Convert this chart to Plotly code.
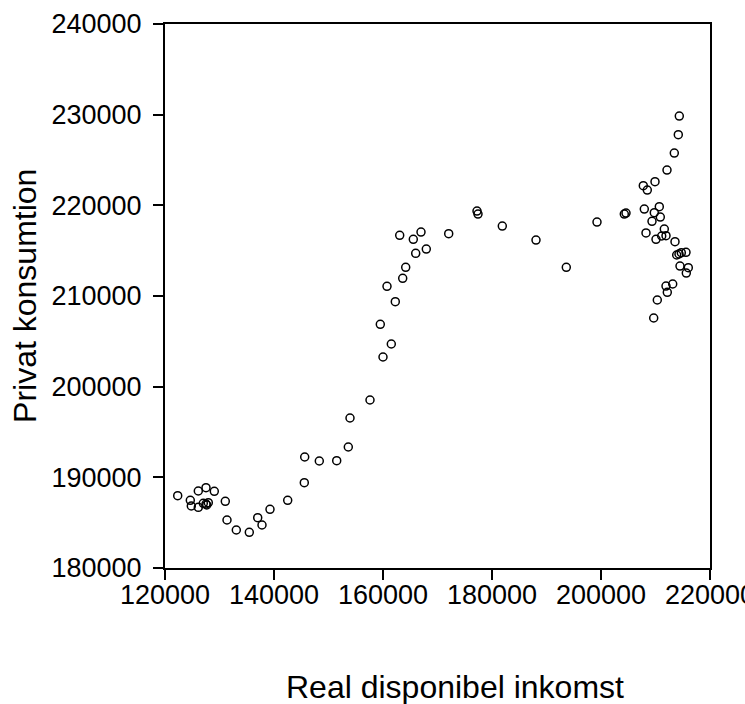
import plotly.graph_objects as go

income = [122330, 124642, 126110, 127523, 129046, 124826, 126110, 127028, 127523, 127945,
          127651, 131064, 131376, 133083, 135468, 137009, 137798, 139266, 142514,
          145560, 145633, 148312, 151505, 153633, 153945, 157615,
          160000, 161523, 159505, 162257, 160734, 163615, 164165, 166000, 167945,
          163064, 165560, 166972, 172055,
          177248, 177431, 181890, 188073, 193633, 199266, 204587,
          204275, 207945, 210697, 209780, 210881, 209358, 211615, 208257, 210092,
          211138, 211927, 213578, 213890, 214312, 214734, 215596, 214495, 216018,
          215651, 211927, 213156, 212165, 210330, 209670,
          214367, 214183, 213450, 212110, 209908, 207761, 208495]
consumption = [187974, 187467, 188492, 188856, 188459, 186838, 186694, 187136, 187059, 187202,
               186948, 187356, 185294, 184191, 183937, 185548, 184743, 186474, 187467,
               189408, 192242, 191801, 191834, 193345, 196543, 198529,
               203271, 204705, 206877, 209370, 211068, 211950, 213164, 214708, 215182,
               216694, 216252, 217057, 216870,
               219373, 219042, 217718, 216174, 213164, 218160, 219152,
               219042, 219593, 219848, 219186, 218711, 218237, 217388, 216956, 216252,
               216616, 216649, 215987, 214521, 214631, 214774, 214818, 213307, 213120,
               212535, 211101, 211322, 210407, 209558, 207573,
               229851, 227789, 225770, 223895, 222605, 222164, 221689]

x_ticks = [120000, 140000, 160000, 180000, 200000, 220000]
y_ticks = [180000, 190000, 200000, 210000, 220000, 230000, 240000]

fig = go.Figure(go.Scatter(
    x=income, y=consumption, mode="markers",
    marker=dict(symbol="circle-open", size=8, color="black", line=dict(width=1.5, color="black")),
    showlegend=False,
))

font = dict(family="Liberation Sans, Arial, sans-serif", size=27, color="black")
title_font = dict(family="Liberation Sans, Arial, sans-serif", size=32, color="black")
axis_common = dict(
    showline=True, linecolor="black", linewidth=2, mirror=True,
    ticks="outside", ticklen=10, tickwidth=1.5, tickcolor="black",
    showgrid=False, zeroline=False, tickfont=font, ticklabeloverflow="allow",
    automargin=False,
)
fig.update_layout(
    width=745, height=704,
    margin=dict(l=165, r=35, t=24, b=136),
    plot_bgcolor="white", paper_bgcolor="white",
    font=font,
    xaxis=dict(range=[120000, 220000], tickvals=x_ticks, ticktext=[str(v) for v in x_ticks],
               ticklabelstandoff=-8, **axis_common),
    yaxis=dict(range=[180000, 240000], tickvals=y_ticks, ticktext=[str(v) for v in y_ticks],
               ticklabelstandoff=6, **axis_common),
    annotations=[
        dict(text="Real disponibel inkomst", xref="paper", yref="paper", x=0.532, y=-0.219,
             xanchor="center", yanchor="middle", showarrow=False, font=title_font),
        dict(text="Privat konsumtion", xref="paper", yref="paper", x=-0.257, y=0.5,
             xanchor="center", yanchor="middle", showarrow=False, textangle=-90, font=title_font),
    ],
)
fig.write_html("out.html")
